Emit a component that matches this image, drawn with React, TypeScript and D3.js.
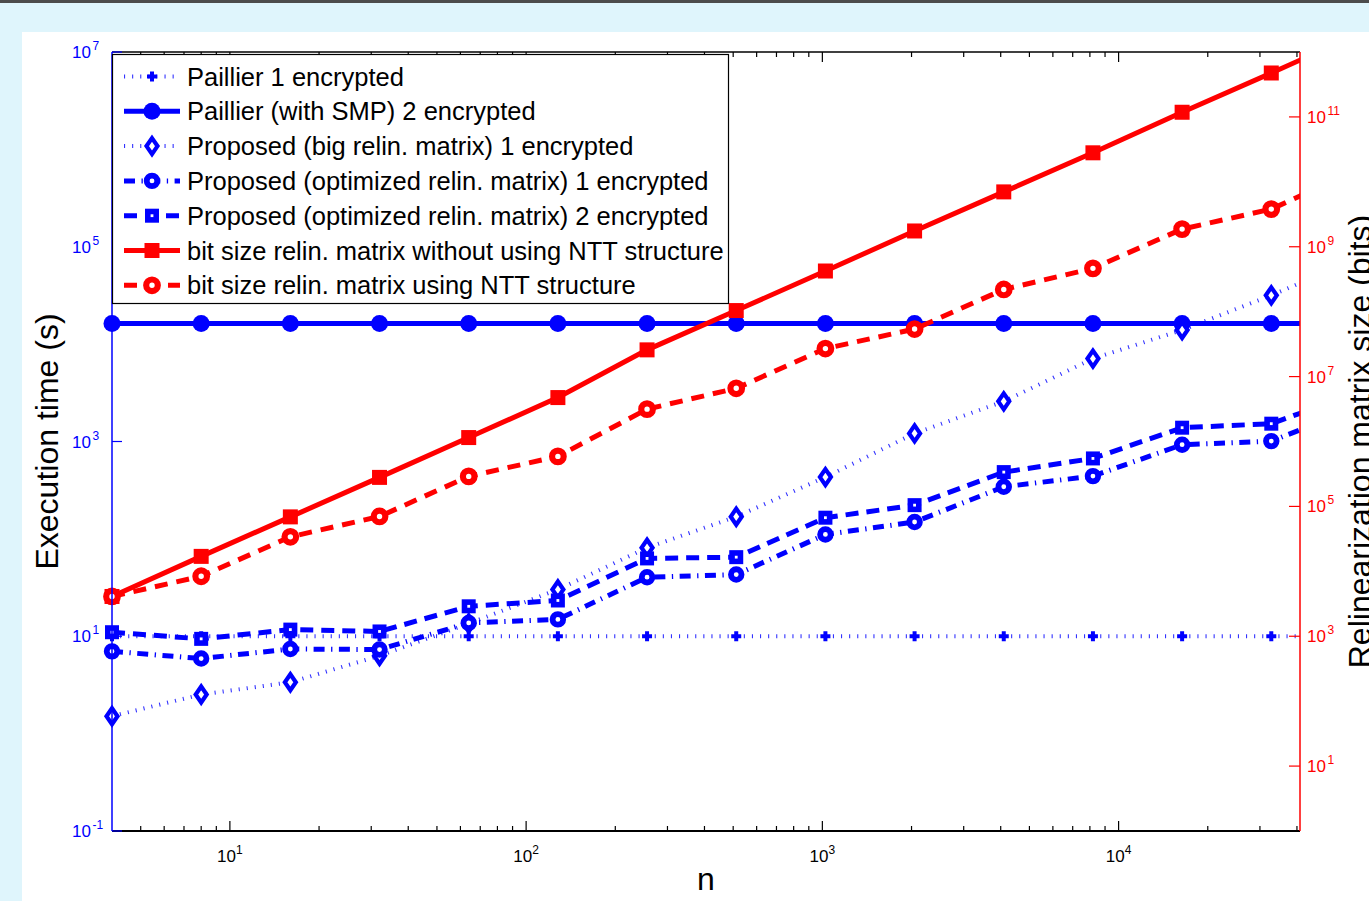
import React from 'react';
import * as d3 from 'd3';

// n = 2^2 ... 2^16 (the last point lies past the right edge of the axes)
const nValues = [4, 8, 16, 32, 64, 128, 256, 512, 1024, 2048, 4096, 8192, 16384, 32768, 65536];

// execution time (s), left axis
const paillier1 = [10, 10, 10, 10, 10, 10, 10, 10, 10, 10, 10, 10, 10, 10, 10];
const paillierSmp2 = [16250, 16250, 16250, 16250, 16250, 16250, 16250, 16250, 16250, 16250, 16250, 16250, 16250, 16250, 16250];
const bigRelin1 = [1.51, 2.52, 3.37, 6.3, 13.5, 30.2, 81, 169, 431, 1211, 2583, 7100, 13960, 31700, 78000];
const optRelin1 = [7.0, 5.9, 7.4, 7.3, 13.7, 14.9, 40.4, 43, 111, 149, 343, 441, 927, 1009, 2295];
const optRelin2 = [11.0, 9.4, 11.7, 11.2, 20.3, 23.3, 63, 64.9, 165, 222, 485, 670, 1386, 1524, 3270];

// relinearization matrix size (bits), right axis
const bitsNoNtt = [4.1e3, 1.7e4, 6.9e4, 2.8e5, 1.15e6, 4.75e6, 2.58e7, 1.04e8, 4.23e8, 1.75e9, 7.0e9, 2.8e10, 1.18e11, 4.75e11, 1.96e12];
const bitsNtt = [4.1e3, 8.4e3, 3.4e4, 7.0e4, 2.9e5, 5.9e5, 3.15e6, 6.6e6, 2.7e7, 5.4e7, 2.2e8, 4.65e8, 1.87e9, 3.8e9, 1.62e10];

const legendLabels = [
  'Paillier 1 encrypted',
  'Paillier (with SMP) 2 encrypted',
  'Proposed (big relin. matrix) 1 encrypted',
  'Proposed (optimized relin. matrix) 1 encrypted',
  'Proposed (optimized relin. matrix) 2 encrypted',
  'bit size relin. matrix without using NTT structure',
  'bit size relin. matrix using NTT structure',
];

const leftTickExp = [-1, 1, 3, 5, 7];
const rightTickExp = [1, 3, 5, 7, 9, 11];
const bottomTickExp = [1, 2, 3, 4];

const BLUE = '#0000ff';
const RED = '#ff0000';
const FONT = 'Liberation Sans, Arial, Helvetica, sans-serif';

const W = 1369;
const H = 901;
const L = 112, R = 1300, T = 52, B = 831;

type Style = { color: string; width: number; dash?: string; opacity?: number; marker: string };

const styles: Style[] = [
  { color: BLUE, width: 4, dash: '1.1,7', opacity: 0.8, marker: 'plus' },
  { color: BLUE, width: 5, marker: 'dot' },
  { color: BLUE, width: 4, dash: '1.1,7', opacity: 0.8, marker: 'diamond' },
  { color: BLUE, width: 5, dash: '11,6.5,1.3,6.5', marker: 'ocircle' },
  { color: BLUE, width: 5, dash: '13,8', marker: 'osquare' },
  { color: RED, width: 5, marker: 'square' },
  { color: RED, width: 5, dash: '13,9', marker: 'rcircle' },
];

function Marker({ type, cx, cy, color }: { type: string; cx: number; cy: number; color: string }) {
  switch (type) {
    case 'plus':
      return <path d={`M${cx - 5},${cy}H${cx + 5}M${cx},${cy - 5}V${cy + 5}`} stroke={color} strokeWidth={4} fill="none" />;
    case 'dot':
      return <circle cx={cx} cy={cy} r={8.5} fill={color} />;
    case 'diamond':
      return (
        <path
          d={`M${cx},${cy - 8}L${cx + 5.5},${cy}L${cx},${cy + 8}L${cx - 5.5},${cy}Z`}
          fill="#fff"
          stroke={color}
          strokeWidth={4.2}
        />
      );
    case 'ocircle':
      return <circle cx={cx} cy={cy} r={5.3} fill="#fff" stroke={color} strokeWidth={5.8} />;
    case 'osquare':
      return <rect x={cx - 4.2} y={cy - 4.2} width={8.4} height={8.4} fill="#fff" stroke={color} strokeWidth={5.6} />;
    case 'square':
      return <rect x={cx - 7.5} y={cy - 7.5} width={15} height={15} fill={color} />;
    case 'rcircle':
      return <circle cx={cx} cy={cy} r={5.8} fill="#fff" stroke={color} strokeWidth={6.2} />;
    default:
      return null;
  }
}

function Pow({ x, y, exp, color, anchor }: { x: number; y: number; exp: number; color: string; anchor: string }) {
  if (anchor === 'middle') {
    return (
      <text x={x} y={y} fill={color} fontSize={17} fontFamily={FONT} textAnchor="middle">
        10<tspan dy={-8} fontSize={12}>{exp}</tspan>
      </text>
    );
  }
  // "10" aligned by its right edge (left axis) or left edge (right axis), exponent hangs after
  const baseEnd = anchor === 'end' ? x : x + 19;
  return (
    <g fill={color} fontFamily={FONT}>
      <text x={baseEnd} y={y} fontSize={17} textAnchor="end">10</text>
      <text x={baseEnd + 1.5} y={y - 8} fontSize={12}>{exp}</text>
    </g>
  );
}

export default function App() {
  const x = d3.scaleLog().domain([4, 40960]).range([L, R]);
  const yLeft = d3.scaleLog().domain([0.1, 1e7]).range([B, T]);
  const yRight = d3.scaleLog().domain([1, 1e12]).range([B, T]);

  const data = [
    { values: paillier1, y: yLeft },
    { values: paillierSmp2, y: yLeft },
    { values: bigRelin1, y: yLeft },
    { values: optRelin1, y: yLeft },
    { values: optRelin2, y: yLeft },
    { values: bitsNoNtt, y: yRight },
    { values: bitsNtt, y: yRight },
  ];

  // x ticks: majors at decades, minors at 2..9 inside the domain
  const [x0, x1] = x.domain();
  const minor: number[] = [];
  for (let e = 0; e <= 4; e++) {
    for (let m = 2; m <= 9; m++) {
      const v = m * Math.pow(10, e);
      if (v > x0 && v < x1) minor.push(v);
    }
  }
  const major = bottomTickExp.map(e => Math.pow(10, e));

  const legendRowY = (i: number) => 76.5 + i * 34.8;

  return (
    <div style={{ position: 'fixed', left: 0, top: 0 }}>
      <svg width={W} height={H} style={{ display: 'block' }}>
        <defs>
          <clipPath id="plotClip">
            <rect x={L - 10} y={T} width={R - L + 10} height={B - T} />
          </clipPath>
        </defs>
        <rect x={0} y={0} width={W} height={H} fill="#dff5fc" />
        <rect x={0} y={0} width={W} height={3} fill="#4c4c4c" />
        <rect x={22} y={32} width={W - 22} height={H - 32} fill="#ffffff" />

        {/* series */}
        {data.map((s, si) => {
          const st = styles[si];
          const line = d3
            .line<number>()
            .x((_, i) => x(nValues[i]))
            .y(d => s.y(d));
          return (
            <g key={si}>
              <path
                d={line(s.values) || ''}
                fill="none"
                stroke={st.color}
                strokeWidth={st.width}
                strokeDasharray={st.dash}
                strokeOpacity={st.opacity ?? 1}
                clipPath="url(#plotClip)"
              />
              {s.values.map((v, i) =>
                x(nValues[i]) <= R + 0.5 ? (
                  <Marker key={i} type={st.marker} cx={x(nValues[i])} cy={s.y(v)} color={st.color} />
                ) : null
              )}
            </g>
          );
        })}

        {/* axes box */}
        <line x1={L} x2={R} y1={T} y2={T} stroke="#000" strokeWidth={1.5} />
        <line x1={L} x2={R} y1={B} y2={B} stroke="#000" strokeWidth={2} />
        <line x1={L} x2={L} y1={T} y2={B} stroke={BLUE} strokeWidth={1.5} />
        <line x1={R} x2={R} y1={T} y2={B} stroke={RED} strokeWidth={1.5} />

        {/* x ticks, bottom and top */}
        {minor.map(v => (
          <g key={'mi' + v} stroke="#000" strokeWidth={1.2}>
            <line x1={x(v)} x2={x(v)} y1={B} y2={B - 5} />
            <line x1={x(v)} x2={x(v)} y1={T} y2={T + 5} />
          </g>
        ))}
        {major.map(v => (
          <g key={'ma' + v} stroke="#000" strokeWidth={1.2}>
            <line x1={x(v)} x2={x(v)} y1={B} y2={B - 10} />
            <line x1={x(v)} x2={x(v)} y1={T} y2={T + 10} />
          </g>
        ))}
        {bottomTickExp.map(e => (
          <Pow key={'bx' + e} x={x(Math.pow(10, e))} y={862} exp={e} color="#000" anchor="middle" />
        ))}

        {/* left axis ticks */}
        {leftTickExp.map(e => {
          const yy = yLeft(Math.pow(10, e));
          return (
            <g key={'ly' + e}>
              <line x1={L} x2={L + 10} y1={yy} y2={yy} stroke={BLUE} strokeWidth={1.2} />
              <Pow x={91} y={yy + 6} exp={e} color={BLUE} anchor="end" />
            </g>
          );
        })}

        {/* right axis ticks */}
        {rightTickExp.map(e => {
          const yy = yRight(Math.pow(10, e));
          return (
            <g key={'ry' + e}>
              <line x1={R - 11} x2={R} y1={yy} y2={yy} stroke={RED} strokeWidth={1.2} />
              <Pow x={1307} y={yy + 6} exp={e} color={RED} anchor="start" />
            </g>
          );
        })}

        {/* axis titles */}
        <text
          transform={`translate(58,${(T + B) / 2}) rotate(-90)`}
          textAnchor="middle"
          fontSize={32}
          fontFamily={FONT}
          fill="#000"
        >
          Execution time (s)
        </text>
        <text
          transform={`translate(1371,${(T + B) / 2}) rotate(-90)`}
          textAnchor="middle"
          fontSize={32}
          fontFamily={FONT}
          fill="#000"
        >
          Relinearization matrix size (bits)
        </text>
        <text x={(L + R) / 2} y={890} textAnchor="middle" fontSize={32} fontFamily={FONT} fill="#000">
          n
        </text>

        {/* legend */}
        <rect x={112.5} y={54.5} width={616} height={249} fill="#fff" stroke="#000" strokeWidth={1.2} />
        {legendLabels.map((label, i) => {
          const st = styles[i];
          const yy = legendRowY(i);
          return (
            <g key={'lg' + i}>
              <line
                x1={124}
                x2={180}
                y1={yy}
                y2={yy}
                stroke={st.color}
                strokeWidth={st.width}
                strokeDasharray={st.dash}
                strokeOpacity={st.opacity ?? 1}
              />
              <Marker type={st.marker} cx={152} cy={yy} color={st.color} />
              <text x={187} y={yy + 9} fontSize={25.5} fontFamily={FONT} fill="#000">
                {label}
              </text>
            </g>
          );
        })}
      </svg>
    </div>
  );
}
